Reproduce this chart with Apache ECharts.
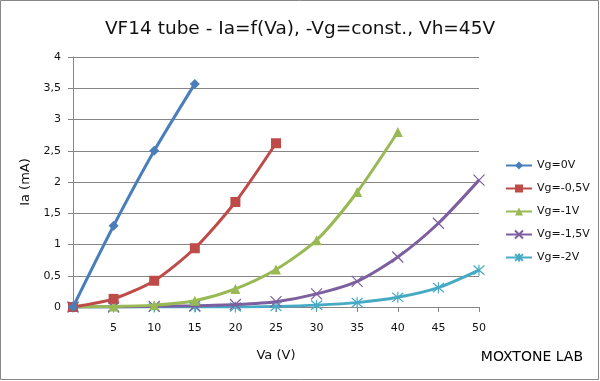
<!DOCTYPE html>
<html>
<head>
<meta charset="utf-8">
<script src="https://cdn.jsdelivr.net/npm/echarts@6/dist/echarts.min.js"></script>
<style>html,body{margin:0;padding:0;background:#fff}#c{width:600px;height:381px}</style>
</head>
<body>
<div id="c"></div>
<script>
const va = [0, 5, 10, 15, 20, 25, 30, 35, 40, 45, 50];
const vg0 = [0, 1.3, 2.5, 3.57];
const vg05 = [0, 0.13, 0.42, 0.94, 1.68, 2.62];
const vg1 = [0, 0.01, 0.03, 0.1, 0.29, 0.6, 1.07, 1.84, 2.8];
const vg15 = [0, 0, 0.01, 0.02, 0.04, 0.085, 0.21, 0.41, 0.8, 1.34, 2.03];
const vg2 = [0, 0, 0, 0, 0, 0.01, 0.03, 0.07, 0.155, 0.31, 0.59];
const seriesNames = ['Vg=0V', 'Vg=-0,5V', 'Vg=-1V', 'Vg=-1,5V', 'Vg=-2V'];
const yTicks = [0, 0.5, 1, 1.5, 2, 2.5, 3, 3.5, 4];

const font = 'DejaVu Sans, Verdana, sans-serif';
const colors = ['#4a7ebb', '#be4b48', '#98b954', '#7d5fa0', '#46aac5'];
const symbols = [
  'diamond',
  'rect',
  'triangle',
  'path://M0,0 L10,10 M10,0 L0,10',
  'path://M0,0 L10,10 M10,0 L0,10 M5,-1 L5,11'
];
const symSizes = [10, 10, 10, 11, 11];
const datasets = [vg0, vg05, vg1, vg15, vg2];

const series = datasets.map((d, i) => ({
  name: seriesNames[i],
  type: 'line',
  smooth: 0.25,
  data: d.map((v, k) => [va[k], v]),
  symbol: symbols[i],
  symbolSize: symSizes[i],
  showSymbol: true,
  lineStyle: { color: colors[i], width: 3 },
  itemStyle: { color: i >= 3 ? 'rgba(0,0,0,0)' : colors[i], borderColor: colors[i], borderWidth: i >= 3 ? 1.2 : 0 },
  emphasis: { disabled: true },
  z: 10 - i
}));

const chart = echarts.init(document.getElementById('c'), null, { renderer: 'canvas' });
chart.setOption({
  animation: false,
  backgroundColor: '#fff',
  color: colors,
  title: {
    text: 'VF14 tube - Ia=f(Va), -Vg=const., Vh=45V',
    left: 'center',
    top: 15,
    textStyle: { fontFamily: font, fontSize: 18.5, fontWeight: 'normal', color: '#111' }
  },
  grid: { left: 73, right: 121, top: 57, bottom: 74 },
  legend: {
    orient: 'vertical',
    left: 505,
    top: 160,
    padding: 0,
    itemGap: 12,
    itemWidth: 26,
    itemHeight: 10,
    textStyle: { fontFamily: font, fontSize: 11, color: '#111' },
    data: seriesNames
  },
  xAxis: {
    type: 'value',
    min: 0, max: 50, interval: 5,
    name: 'Va (V)',
    nameLocation: 'middle',
    nameGap: 42,
    nameTextStyle: { fontFamily: font, fontSize: 13, color: '#111' },
    axisLine: { show: true, lineStyle: { color: '#868686', width: 1 } },
    axisTick: { show: true, length: 5, lineStyle: { color: '#868686' } },
    axisLabel: {
      fontFamily: font, fontSize: 11, color: '#111', margin: 16,
      formatter: v => v === 0 ? '' : String(v)
    },
    splitLine: { show: false }
  },
  yAxis: {
    type: 'value',
    min: 0, max: 4, interval: 0.5,
    name: 'Ia (mA)',
    nameLocation: 'middle',
    nameGap: 33,
    nameTextStyle: { fontFamily: font, fontSize: 13, color: '#111' },
    axisLine: { show: true, lineStyle: { color: '#868686', width: 1 } },
    axisTick: { show: true, length: 5, lineStyle: { color: '#868686' } },
    axisLabel: {
      fontFamily: font, fontSize: 11, color: '#111', margin: 12,
      formatter: v => String(v).replace('.', ',')
    },
    splitLine: { show: true, lineStyle: { color: '#868686', width: 1 } }
  },
  graphic: [
    {
      type: 'rect', silent: true, z: 100,
      shape: { x: 0.5, y: 0.5, width: 598, height: 379 },
      style: { fill: 'none', stroke: '#878787', lineWidth: 1 }
    },
    {
      type: 'text', x: 583, y: 357,
      style: { text: 'MOXTONE LAB', font: '14px ' + font, fill: '#000', align: 'right', verticalAlign: 'middle' }
    }
  ],
  series: series
});
</script>
</body>
</html>
